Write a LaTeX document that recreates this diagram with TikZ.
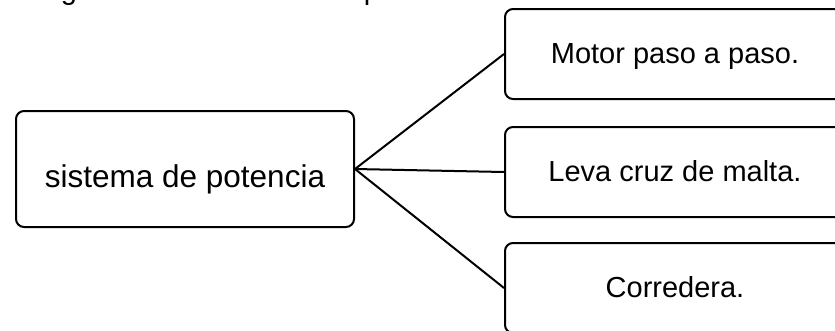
\documentclass[tikz,border=0pt]{standalone}
\usepackage{fontspec}
\setmainfont{Liberation Sans}
\begin{document}
\begin{tikzpicture}[x=1pt,y=-1pt,
  box/.style={draw, line width=2pt, rounded corners=8pt, inner sep=0pt, anchor=north west},
  mainbox/.style={box, minimum width=338pt, minimum height=116pt,
    text height=36pt, text depth=0pt, font=\fontsize{31.5}{36}\selectfont},
  partbox/.style={box, minimum width=340pt, minimum height=90pt,
    text height=21pt, text depth=3pt, font=\fontsize{29}{34}\selectfont},
  link/.style={line width=2pt},
  caption/.style={inner sep=0pt, anchor=base, font=\fontsize{29}{34}\selectfont}]
\useasboundingbox (0,0) rectangle (835,330);
\clip (0,0) rectangle (835,330);

% descenders of the line above the diagram
\node[caption] (capg) at (69,-1) {g};
\node[caption] (capp) at (372,-1) {p};

% power system and its parts
\node[mainbox] (src) at (15,110) {sistema de potencia};
\node[partbox] (motor) at (504,8) {Motor paso a paso.};
\node[partbox] (leva) at (504,126) {Leva cruz de malta.};
\node[partbox] (corr) at (504,242) {Corredera.};

% connectors
\draw[link] (src.east) -- (motor.west);
\draw[link] (src.east) -- (leva.west);
\draw[link] (src.east) -- (corr.west);
\end{tikzpicture}
\end{document}
